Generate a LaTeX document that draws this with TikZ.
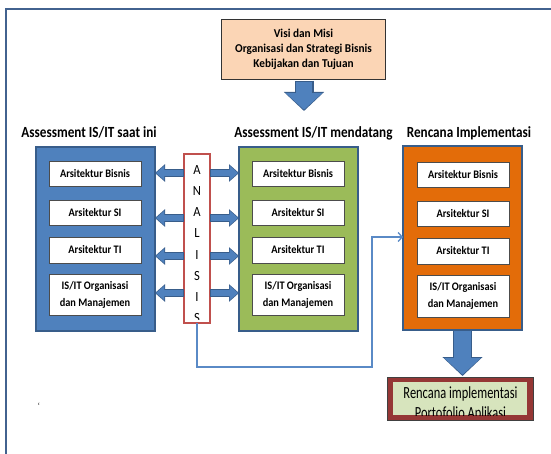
\documentclass[tikz,border=0pt]{standalone}
\usepackage{fontspec}
\setmainfont{Carlito}[FakeStretch=0.9]
\newfontfamily\headfont{Carlito}[FakeStretch=0.85]
\newfontfamily\topfont{Carlito}[FakeStretch=0.94]
\newfontfamily\botfont{Carlito}[FakeStretch=0.73]
\usetikzlibrary{arrows.meta,calc}
\definecolor{frameC}{HTML}{42628F}
\definecolor{blueF}{HTML}{4F81BD}
\definecolor{blueD}{HTML}{385D8A}
\definecolor{greenF}{HTML}{9BBB59}
\definecolor{orangeF}{HTML}{E36C09}
\definecolor{peach}{HTML}{FBD5B5}
\definecolor{redB}{HTML}{C0504D}
\definecolor{darkred}{HTML}{953735}
\definecolor{lightgreen}{HTML}{D7E4BD}
\definecolor{lineC}{HTML}{5A8AC6}
\begin{document}
\begin{tikzpicture}[x=1pt,y=-1pt,
  panel/.style={draw=blueD, line width=2.5pt, anchor=north west, inner sep=0, outer sep=0},
  item/.style={draw=black!70, fill=white, line width=0.8pt, anchor=north west, align=center,
    font=\bfseries\fontsize{11.5}{17}\selectfont, inner sep=0, outer sep=0},
  heading/.style={font=\headfont\bfseries\fontsize{15.5}{17}\selectfont, anchor=base},
  letter/.style={font=\fontsize{14}{16}\selectfont, anchor=base, inner sep=0},
  fatO/.style={draw=blueD, line width=7.5pt, -{Triangle[length=10pt,width=17pt]}},
  fatI/.style={draw=blueF, line width=5.5pt, -{Triangle[length=8.3pt,width=14pt]}, shorten >=1pt, shorten <=1pt},
  bigO/.style={draw=blueD, line width=#1, -{Triangle[length=19pt,width=39pt]}},
  bigI/.style={draw=blueF, line width=#1, -{Triangle[length=16.5pt,width=35.5pt]}, shorten >=1.3pt, shorten <=1pt},
  thin/.style={draw=lineC, line width=1.3pt, -{Straight Barb[length=4pt,width=9pt]}}
]
\useasboundingbox (0,0) rectangle (551,454);
\clip (0,0) rectangle (551,454);
\fill[white] (0,0) rectangle (551,454);
% outer frame
\draw[frameC, line width=2pt] (6,9) rectangle (560,470);

% top box
\node[draw=black!80, fill=peach, line width=1pt, anchor=north west, minimum width=164pt, minimum height=60pt,
  inner sep=0, align=center, font=\topfont\bfseries\fontsize{12}{14.7}\selectfont] (top) at (221,19)
  {Visi dan Misi\\Organisasi dan Strategi Bisnis\\Kebijakan dan Tujuan};
\coordinate (tA) at (304,81);
\coordinate (tB) at (304,111);
\draw[bigO=19pt] (tA) -- (tB);
\draw[bigI=16.5pt] (tA) -- (tB);

% headings
\node[heading] (h1) at (89,137.7) {Assessment IS/IT saat ini};
\node[heading] (h2) at (313.5,137.7) {Assessment IS/IT mendatang};
\node[heading] (h3) at (469,137.7) {Rencana Implementasi};

% panels
\node[panel, fill=blueF, minimum width=119pt, minimum height=184pt] (blue) at (36,147) {};
\node[panel, fill=greenF, minimum width=119pt, minimum height=184pt] (green) at (239,147) {};
\node[panel, fill=orangeF, minimum width=119pt, minimum height=184pt] (orange) at (403,146) {};

% items
\node[item, minimum width=92pt, minimum height=25pt] (b1) at (49,161) {Arsitektur Bisnis};
\node[item, minimum width=92pt, minimum height=25pt] (b2) at (49,200) {Arsitektur SI};
\node[item, minimum width=92pt, minimum height=26pt] (b3) at (49,237) {Arsitektur TI};
\node[item, minimum width=92pt, minimum height=41pt] (b4) at (49,274) {IS/IT Organisasi\\dan Manajemen};

\node[item, minimum width=92pt, minimum height=25pt] (g1) at (252,161) {Arsitektur Bisnis};
\node[item, minimum width=92pt, minimum height=25pt] (g2) at (252,200) {Arsitektur SI};
\node[item, minimum width=92pt, minimum height=26pt] (g3) at (252,237) {Arsitektur TI};
\node[item, minimum width=92pt, minimum height=41pt] (g4) at (252,274) {IS/IT Organisasi\\dan Manajemen};

\node[item, minimum width=92pt, minimum height=25pt] (o1) at (417,162) {Arsitektur Bisnis};
\node[item, minimum width=92pt, minimum height=25pt] (o2) at (417,201) {Arsitektur SI};
\node[item, minimum width=92pt, minimum height=26pt] (o3) at (417,238) {Arsitektur TI};
\node[item, minimum width=92pt, minimum height=42pt] (o4) at (417,275) {IS/IT Organisasi\\dan Manajemen};

% ANALISIS box
\node[draw=redB, fill=white, line width=2pt, anchor=north west, minimum width=26pt, minimum height=169pt,
  inner sep=0, outer sep=0] (ana) at (184,154) {};
\begin{scope}
\clip (185,155) rectangle (209,319);
\foreach \c [count=\i from 0] in {A,N,A,L,I,S,I,S}
  \node[letter] (L\i) at (197,{175+21*\i}) {\c};
\end{scope}

% small fat arrows
\foreach \yy in {173,218,256,293}{
  \draw[fatO] (ana.west |- 0,\yy) -- (blue.east |- 0,\yy);
  \draw[fatI] (ana.west |- 0,\yy) -- (blue.east |- 0,\yy);
  \draw[fatO] (ana.east |- 0,\yy) -- (green.west |- 0,\yy);
  \draw[fatI] (ana.east |- 0,\yy) -- (green.west |- 0,\yy);
}

% thin connector
\coordinate (c1) at (197,367);
\coordinate (c2) at (372,367);
\coordinate (c3) at (372,237);
\draw[thin] (ana.south) -- (c1) -- (c2) -- (c3) -- (orange.west |- c3);

% bottom big arrow
\coordinate (bB) at (462.5,376);
\draw[bigO=19pt] (orange.south) -- (bB);
\draw[bigI=16.5pt] (orange.south) -- (bB);

% bottom box
\node[draw=black!75, fill=darkred, line width=0.8pt, anchor=north west, minimum width=146pt, minimum height=43pt,
  inner sep=0, outer sep=0] (rb) at (387,377) {};
\node[fill=lightgreen, anchor=north west, minimum width=134pt, minimum height=33pt, inner sep=0] (rbi) at (393,382) {};
\begin{scope}
\clip (393,382) rectangle (527,415);
\node[font=\botfont\fontsize{17}{18}\selectfont, anchor=base] (rt1) at (460.5,398) {Rencana implementasi};
\node[font=\botfont\fontsize{17}{18}\selectfont, anchor=base] (rt2) at (460.5,418.5) {Portofolio Aplikasi};
\end{scope}

\node[font=\fontsize{9}{11}\selectfont, anchor=base] (tick) at (39,409) {`};
\end{tikzpicture}
\end{document}
